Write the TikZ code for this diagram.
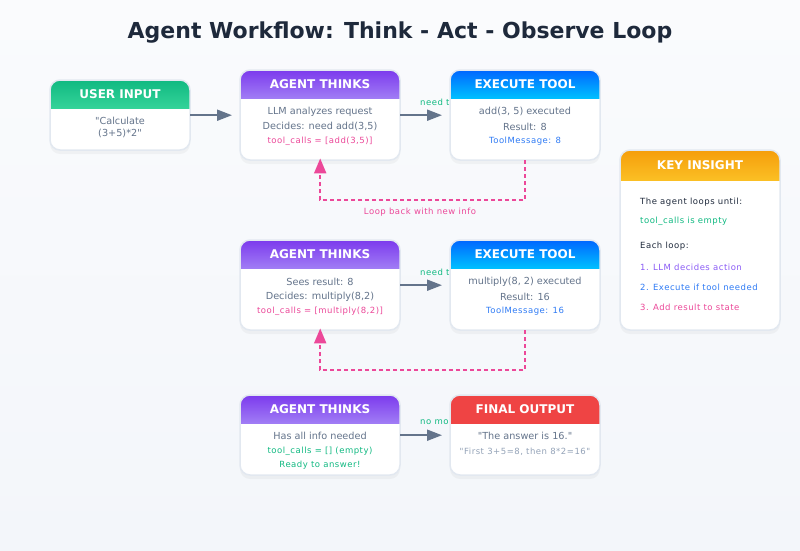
\documentclass[tikz,border=0pt]{standalone}
\usepackage{fontspec}
\setmainfont{DejaVu Sans}[Ligatures=TeXOff]
\newfontfamily\smallf{DejaVu Sans}[LetterSpace=6,Ligatures=TeXOff]
\usetikzlibrary{arrows.meta}
\definecolor{bgA}{HTML}{FAFBFD}
\definecolor{bgB}{HTML}{F3F6FA}
\definecolor{titlec}{HTML}{1E293B}
\definecolor{slate}{HTML}{64748B}
\definecolor{border}{HTML}{E2E8F0}
\definecolor{pinkc}{HTML}{EC4899}
\definecolor{bluec}{HTML}{2F7BF5}
\definecolor{greenc}{HTML}{10B981}
\definecolor{purplec}{HTML}{8B5CF6}
\definecolor{lightg}{HTML}{94A3B8}
\definecolor{darkt}{HTML}{1E293B}
\definecolor{grA}{HTML}{10B981}\definecolor{grB}{HTML}{34D399}
\definecolor{puA}{HTML}{7C3AED}\definecolor{puB}{HTML}{A07CF5}
\definecolor{blA}{HTML}{0066FF}\definecolor{blB}{HTML}{00BFFF}
\definecolor{orA}{HTML}{F59E0B}\definecolor{orB}{HTML}{FBBF24}
\definecolor{reA}{HTML}{EF4444}\definecolor{reB}{HTML}{EF4444}
% name, x1, y1, x2, y2, header height, top colour, bottom colour, title
\newcommand\mycard[9]{%
  \fill[black, opacity=0.035, rounded corners=10pt] (#2,#3+2) rectangle (#4,#5+4);
  \fill[white, rounded corners=10pt] (#2,#3) rectangle (#4,#5);
  \begin{scope}
    \clip[rounded corners=10pt] (#2,#3) rectangle (#4,#5);
    \shade[top color=#7, bottom color=#8] (#2,#3) rectangle (#4,#3+#6);
  \end{scope}
  \draw[border, line width=1.5pt, rounded corners=10pt] (#2,#3) rectangle (#4,#5);
  \node[inner sep=0, minimum width={(#4-#2)*1pt}, minimum height={(#5-#3)*1pt}, anchor=north west] (#1) at (#2,#3) {};
  \node[hdr] (#1-title) at ({(#2+#4)/2},{#3+#6/2}) {#9};
}
\begin{document}
\begin{tikzpicture}[x=1pt,y=-1pt,
  body/.style={font=\fontsize{9.7}{11}\selectfont, text=slate, inner sep=0},
  small/.style={font=\smallf\fontsize{8.5}{10}\selectfont, inner sep=0},
  hdr/.style={font=\bfseries\fontsize{12}{14}\selectfont, text=white, inner sep=0},
  flow/.style={draw=slate, line width=2pt, -{Triangle[length=15pt,width=11pt]}},
  back/.style={draw=pinkc, line width=2pt, dash pattern=on 4pt off 3pt, -{Triangle[length=15pt,width=12pt]}},
  elabel/.style={small, text=greenc, anchor=west},
]
\useasboundingbox (0,0) rectangle (800,550);
\shade[top color=bgA, bottom color=bgB] (0,0) rectangle (800,550);

\node[font=\bfseries\fontsize{22}{26}\selectfont, text=titlec] (title) at (400,33) {Agent Workflow: Think - Act - Observe Loop};

% edge labels (partly covered by the tool cards)
\node[elabel] (lab1) at (420,102) {need t};
\node[elabel] (lab2) at (420,272) {need t};
\node[elabel] (lab3) at (420,422) {no mo};

% cards
\mycard{user}{50}{80}{190}{150}{28}{grA}{grB}{USER INPUT}
\mycard{think1}{240}{70}{400}{160}{28}{puA}{puB}{AGENT THINKS}
\mycard{exec1}{450}{70}{600}{160}{28}{blA}{blB}{EXECUTE TOOL}
\mycard{insight}{620}{150}{780}{330}{30}{orA}{orB}{KEY INSIGHT}
\mycard{think2}{240}{240}{400}{330}{28}{puA}{puB}{AGENT THINKS}
\mycard{exec2}{450}{240}{600}{330}{28}{blA}{blB}{EXECUTE TOOL}
\mycard{think3}{240}{395}{400}{475}{28}{puA}{puB}{AGENT THINKS}
\mycard{final}{450}{395}{600}{475}{28}{reA}{reB}{FINAL OUTPUT}

% card texts
\node[body] (u1) at (120,121) {"Calculate};
\node[body] (u2) at (120,133.5) {(3+5)*2"};

\node[body] (a1) at (320,111.5) {LLM analyzes request};
\node[body] (a2) at (320,126.5) {Decides: need add(3,5)};
\node[small, text=pinkc] (a3) at (320,141.5) {tool\_calls = [add(3,5)]};

\node[body] (e1) at (525,111.5) {add(3, 5) executed};
\node[body] (e2) at (525,126.5) {Result: 8};
\node[small, text=bluec] (e3) at (525,141.5) {ToolMessage: 8};

\node[body] (b1) at (320,281.5) {Sees result: 8};
\node[body] (b2) at (320,296.5) {Decides: multiply(8,2)};
\node[small, text=pinkc] (b3) at (320,311.5) {tool\_calls = [multiply(8,2)]};

\node[body] (f1) at (525,281.5) {multiply(8, 2) executed};
\node[body] (f2) at (525,296.5) {Result: 16};
\node[small, text=bluec] (f3) at (525,311.5) {ToolMessage: 16};

\node[body] (c1) at (320,436) {Has all info needed};
\node[small, text=greenc] (c2) at (320,451.5) {tool\_calls = [] (empty)};
\node[small, text=greenc] (c3) at (320,465) {Ready to answer!};

\node[body] (g1) at (525,436) {"The answer is 16."};
\node[small, text=lightg] (g2) at (525,451.5) {"First 3+5=8, then 8*2=16"};

% key insight texts
\node[small, text=darkt, anchor=west] (k1) at (640,202) {The agent loops until:};
\node[small, text=greenc, anchor=west] (k2) at (640,221.5) {tool\_calls is empty};
\node[small, text=darkt, anchor=west] (k3) at (640,246.5) {Each loop:};
\node[small, text=purplec, anchor=west] (k4) at (640,267) {1. LLM decides action};
\node[small, text=bluec, anchor=west] (k5) at (640,287) {2. Execute if tool needed};
\node[small, text=pinkc, anchor=west] (k6) at (640,307) {3. Add result to state};

% forward arrows
\draw[flow] (user.east) -- ([xshift=-8pt]think1.west);
\draw[flow] (think1.east) -- ([xshift=-8pt]exec1.west);
\draw[flow] (think2.east) -- ([xshift=-8pt]exec2.west);
\draw[flow] (think3.east) -- ([xshift=-8pt]final.west);

% loop-back arrows
\draw[back] (exec1.south) -- ++(0,40) coordinate (lp1) -| ([yshift=2pt]think1.south);
\draw[back] (exec2.south) -- ++(0,40) coordinate (lp2) -| ([yshift=2pt]think2.south);
\node[small, text=pinkc] (looplab) at (420,212) {Loop back with new info};
\end{tikzpicture}
\end{document}
